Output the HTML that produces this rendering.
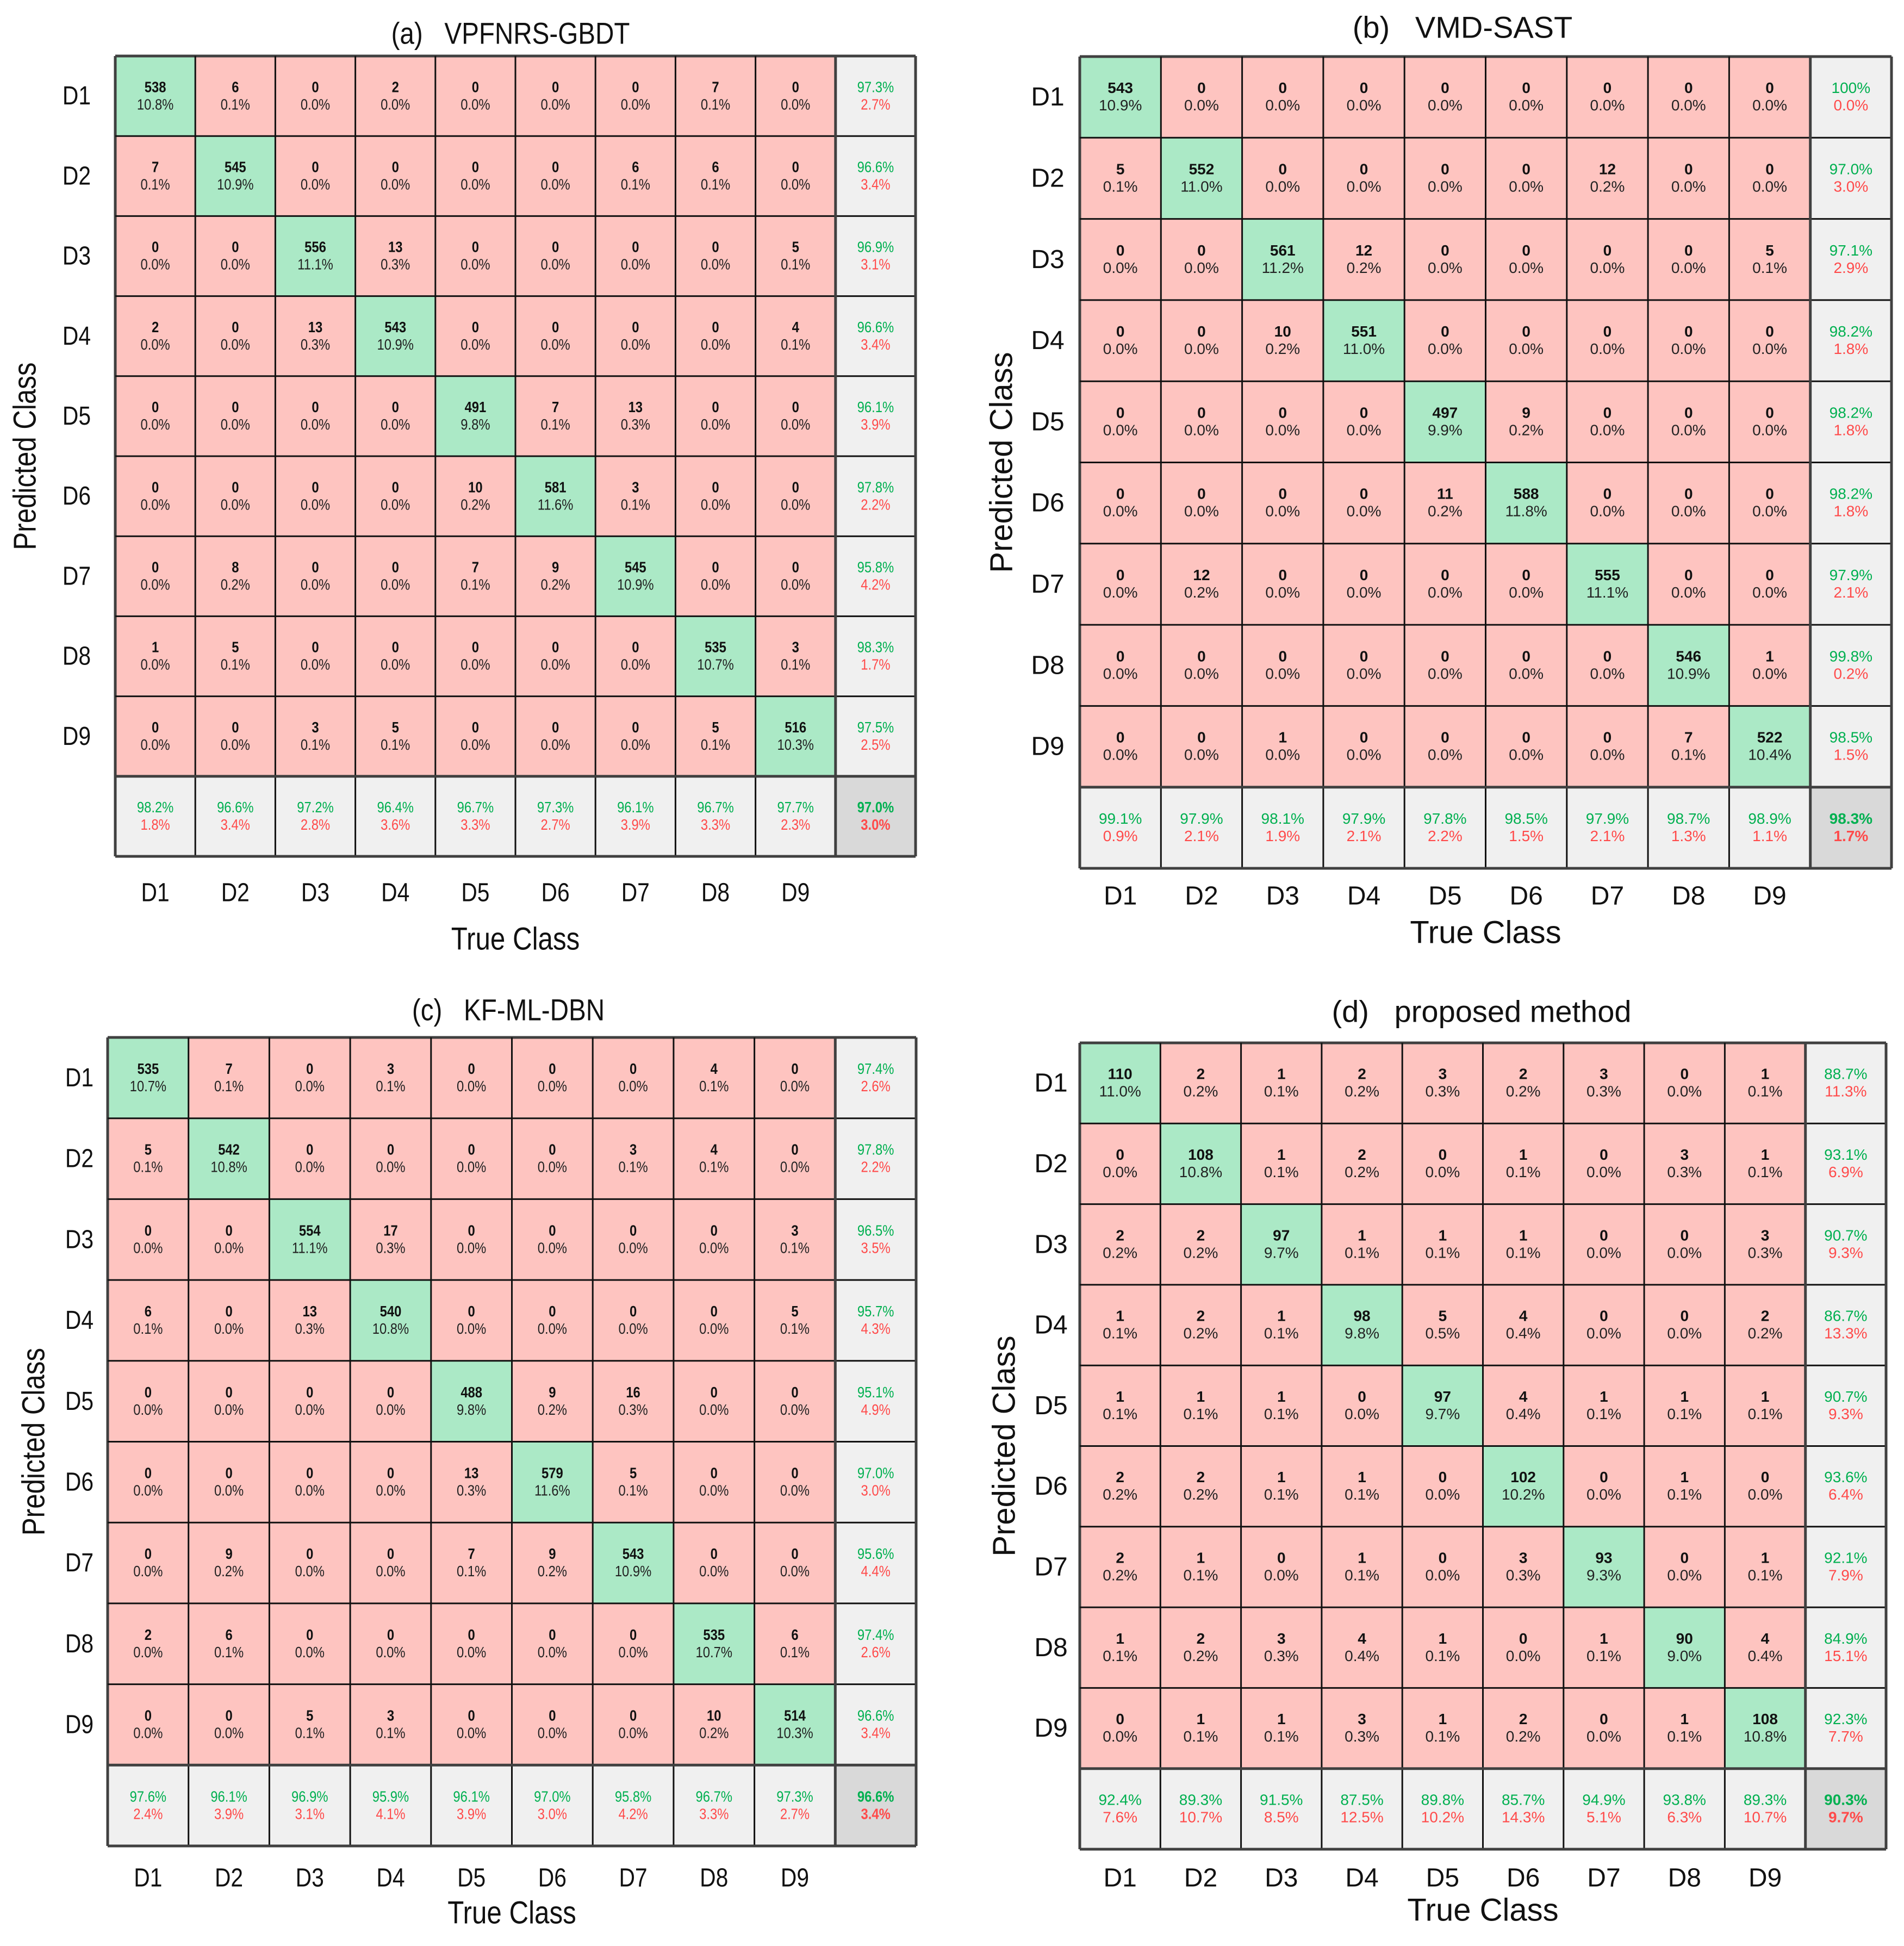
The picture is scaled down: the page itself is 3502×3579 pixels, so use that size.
<!DOCTYPE html>
<html><head><meta charset="utf-8"><style>
html,body{margin:0;padding:0;background:#fff;}
svg{display:block;}
text{font-family:"Liberation Sans",Arial,sans-serif;white-space:pre;}
</style></head>
<body>
<svg id="fig" xmlns="http://www.w3.org/2000/svg" width="3502" height="3579" viewBox="0 0 3502 3579"></svg>
<script>
const classLabels = ["D1","D2","D3","D4","D5","D6","D7","D8","D9"];
const titleA = "(a)\u00a0\u00a0\u00a0VPFNRS-GBDT";
const titleB = "(b)\u00a0\u00a0\u00a0VMD-SAST";
const titleC = "(c)\u00a0\u00a0\u00a0KF-ML-DBN";
const titleD = "(d)\u00a0\u00a0\u00a0proposed method";
const matrixA = [
 [538,6,0,2,0,0,0,7,0],
 [7,545,0,0,0,0,6,6,0],
 [0,0,556,13,0,0,0,0,5],
 [2,0,13,543,0,0,0,0,4],
 [0,0,0,0,491,7,13,0,0],
 [0,0,0,0,10,581,3,0,0],
 [0,8,0,0,7,9,545,0,0],
 [1,5,0,0,0,0,0,535,3],
 [0,0,3,5,0,0,0,5,516]];
const matrixB = [
 [543,0,0,0,0,0,0,0,0],
 [5,552,0,0,0,0,12,0,0],
 [0,0,561,12,0,0,0,0,5],
 [0,0,10,551,0,0,0,0,0],
 [0,0,0,0,497,9,0,0,0],
 [0,0,0,0,11,588,0,0,0],
 [0,12,0,0,0,0,555,0,0],
 [0,0,0,0,0,0,0,546,1],
 [0,0,1,0,0,0,0,7,522]];
const matrixC = [
 [535,7,0,3,0,0,0,4,0],
 [5,542,0,0,0,0,3,4,0],
 [0,0,554,17,0,0,0,0,3],
 [6,0,13,540,0,0,0,0,5],
 [0,0,0,0,488,9,16,0,0],
 [0,0,0,0,13,579,5,0,0],
 [0,9,0,0,7,9,543,0,0],
 [2,6,0,0,0,0,0,535,6],
 [0,0,5,3,0,0,0,10,514]];
const matrixD = [
 [110,2,1,2,3,2,3,0,1],
 [0,108,1,2,0,1,0,3,1],
 [2,2,97,1,1,1,0,0,3],
 [1,2,1,98,5,4,0,0,2],
 [1,1,1,0,97,4,1,1,1],
 [2,2,1,1,0,102,0,1,0],
 [2,1,0,1,0,3,93,0,1],
 [1,2,3,4,1,0,1,90,4],
 [0,1,1,3,1,2,0,1,108]];

const NS="http://www.w3.org/2000/svg";
const svg=document.getElementById('fig');
function mk(tag,attrs,parent){const e=document.createElementNS(NS,tag);for(const k in attrs)e.setAttribute(k,attrs[k]);(parent||svg).appendChild(e);return e;}
function fmt(v){ if(Math.abs(v-100)<1e-9) return "100%"; if(v===0) return "0.0%"; return v.toFixed(1)+"%"; }

function panel(id,title,M,L,T,C,geo){
  const g=mk('g',{});
  
  
  const n=M.length;
  let total=0,diag=0;
  const rowS=new Array(n).fill(0), colS=new Array(n).fill(0);
  for(let i=0;i<n;i++)for(let j=0;j<n;j++){total+=M[i][j];rowS[i]+=M[i][j];colS[j]+=M[i][j];if(i===j)diag+=M[i][j];}
  const sx=geo.sx;
  function txt(x,y,s,opt,parent){
    const t=mk('text',Object.assign({x:0,y:0,'text-anchor':'middle','dominant-baseline':'central',transform:`translate(${x},${y}) scale(${sx},1)`},opt),parent||g);
    t.textContent=s;return t;
  }
  for(let i=0;i<=n;i++)for(let j=0;j<=n;j++){
    const x=L+j*C,y=T+i*C;
    let fill;
    if(i===n&&j===n)fill='#d9d9d9';else if(i===n||j===n)fill='#f0f0f0';else if(i===j)fill='#abe9c6';else fill='#fec4c0';
    const r=mk('rect',{x:x,y:y,width:C,height:C,fill:fill},g);
    
    
    const cx=x+C/2, cy=y+C/2;
    if(i<n&&j<n){
      txt(cx,cy-17,String(M[i][j]),{'font-size':28,'font-weight':'bold',fill:'#111'});
      txt(cx,cy+15,fmt(M[i][j]/total*100),{'font-size':28,fill:'#222'});
    } else {
      let acc;
      if(i===n&&j===n)acc=diag/total*100;else if(j===n)acc=rowS[i]?M[i][i]/rowS[i]*100:0;else acc=colS[j]?M[j][j]/colS[j]*100:0;
      const bold=(i===n&&j===n)?'bold':'normal';
      txt(cx,cy-17,fmt(acc),{'font-size':28,'font-weight':bold,fill:'#00b050'});
      txt(cx,cy+15,fmt(100-acc),{'font-size':28,'font-weight':bold,fill:'#ff4a4a'});
    }
  }
  for(let k=0;k<=n+1;k++){
    const heavy=(k===n||k===0||k===n+1);
    mk('line',{x1:L+k*C,y1:T,x2:L+k*C,y2:T+(n+1)*C,stroke:heavy?'#404040':'#111','stroke-width':heavy?5:3},g);
    mk('line',{x1:L,y1:T+k*C,x2:L+(n+1)*C,y2:T+k*C,stroke:heavy?'#404040':'#111','stroke-width':heavy?5:3},g);
  }
  for(let i=0;i<n;i++){
    const yl=txt(geo.ylx,T+i*C+C/2,classLabels[i],{'font-size':48,fill:'#111'});
    
    
    const xl=txt(L+i*C+C/2,geo.xly,classLabels[i],{'font-size':48,fill:'#111'});
    
    
  }
  const tt=txt(geo.tx,geo.ty,title,{'font-size':56,fill:'#111'});
  
  
  const xt=txt(L+5*C,geo.xty,'True Class',{'font-size':58,fill:'#111'});
  
  
  const cyc=T+(n+1)*C/2;
  const yt=mk('text',{x:0,y:0,'text-anchor':'middle','dominant-baseline':'central','font-size':58,fill:'#111',transform:`translate(${geo.ytx},${cyc}) rotate(-90) scale(${sx},1)`},g);
  yt.textContent='Predicted Class';
  
  
}
panel('a',titleA,matrixA,212,103,147.2,{sx:0.85,ylx:141,xly:1642,tx:939,ty:62,xty:1727,ytx:46});
panel('b',titleB,matrixB,1986,104,149.3,{sx:1,ylx:1927,xly:1648,tx:2690,ty:50,xty:1715,ytx:1842});
panel('c',titleC,matrixC,198,1908,148.7,{sx:0.85,ylx:146,xly:3454,tx:935,ty:1858,xty:3518,ytx:62});
panel('d',titleD,matrixD,1986,1918,148.3,{sx:1,ylx:1933,xly:3454,tx:2725,ty:1860,xty:3513,ytx:1847});
</script>
</body></html>
